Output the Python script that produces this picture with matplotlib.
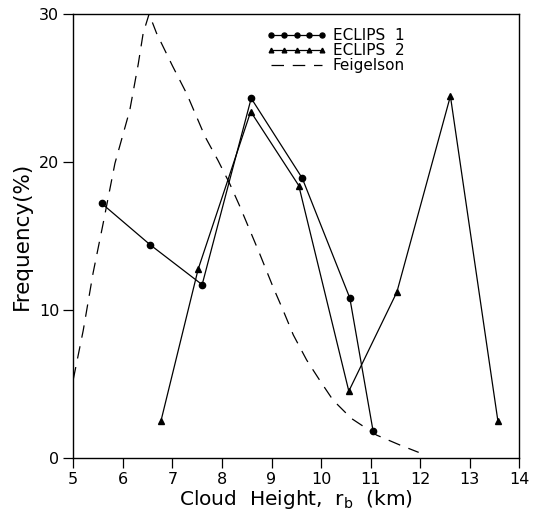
import matplotlib
matplotlib.use('Agg')
import matplotlib.pyplot as plt

# ECLIPS 1 (circles)
e1_x = [5.57, 6.55, 7.60, 8.59, 9.62, 10.58, 11.05]
e1_y = [17.2, 14.4, 11.7, 24.3, 18.9, 10.8, 1.8]

# ECLIPS 2 (triangles)
e2_x = [6.77, 7.52, 8.58, 9.55, 10.56, 11.53, 12.61, 13.57]
e2_y = [2.5, 12.75, 23.4, 18.4, 4.5, 11.2, 24.45, 2.45]

# Feigelson distribution (dashed curve)
fg_x = [5.0, 5.2, 5.4, 5.6, 5.84, 6.14, 6.31, 6.41, 6.53, 6.68, 7.0, 7.29,
        7.66, 7.92, 8.16, 8.36, 8.76, 9.03, 9.23, 9.44, 9.71, 9.97, 10.24,
        10.61, 11.12, 11.59, 11.97]
fg_y = [5.3, 8.6, 12.5, 15.8, 19.9, 23.5, 26.6, 28.7, 30.0, 28.7, 26.5, 24.6,
        21.7, 20.1, 18.5, 17.0, 13.8, 11.55, 10.0, 8.3, 6.6, 5.25, 3.9,
        2.66, 1.53, 0.86, 0.36]

x_ticks = [5, 6, 7, 8, 9, 10, 11, 12, 13, 14]
y_ticks = [0, 10, 20, 30]

plt.rcParams['font.family'] = ['DejaVu Sans']

fig = plt.figure(figsize=(5.37, 5.14), dpi=100)
ax = fig.add_axes([0.1365, 0.1095, 0.8305, 0.8633])

ax.plot(e1_x, e1_y, color='black', lw=0.9, marker='o', markersize=4.5,
        label='ECLIPS  1')
ax.plot(e2_x, e2_y, color='black', lw=0.9, marker='^', markersize=4.2,
        label='ECLIPS  2')
ax.plot(fg_x, fg_y, color='black', lw=0.9, dashes=(10, 7),
        label='Feigelson')

ax.set_xlim(5, 14)
ax.set_ylim(0, 30)
ax.set_xticks(x_ticks)
ax.set_yticks(y_ticks)
ax.tick_params(direction='out', length=7, width=0.9, labelsize=11.5, pad=3)
for s in ax.spines.values():
    s.set_linewidth(1.0)

ax.set_xlabel(r'Cloud  Height,  $\mathregular{r_b}$  (km)', fontsize=14.5, labelpad=1)
ax.set_ylabel('Frequency(%)', fontsize=15.5, labelpad=5)

ax.legend(loc='upper left', bbox_to_anchor=(0.434, 0.968), frameon=False,
          fontsize=11, numpoints=5, handlelength=3.9, handletextpad=0.4,
          labelspacing=0.0, borderpad=0, borderaxespad=0, markerscale=0.8)

plt.savefig('out.png', dpi=100)
